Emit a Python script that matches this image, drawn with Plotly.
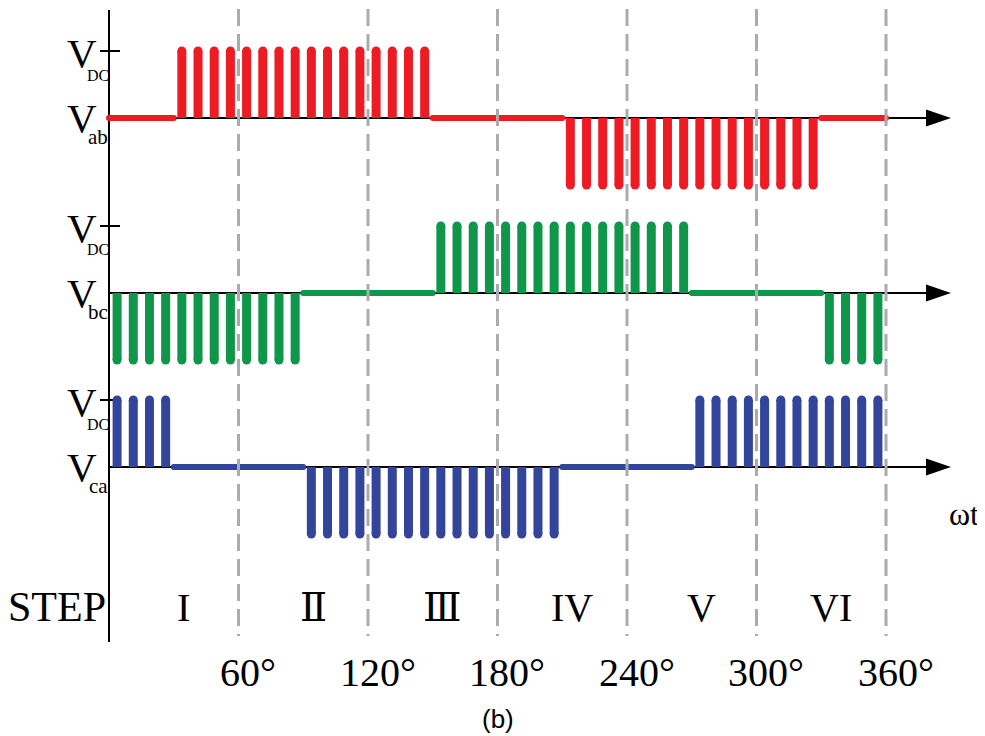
import plotly.graph_objects as go

# ---------------- data ----------------
V_DC = 1.0
step_labels = ["I", "Ⅱ", "Ⅲ", "IV", "V", "VI"]
step_centers = [30, 90, 150, 210, 270, 330]
angle_ticks = [60, 120, 180, 240, 300, 360]
angle_labels = ["60°", "120°", "180°", "240°", "300°", "360°"]

# pulse centres (degrees) and polarity, per line voltage
vab_pos = [33.75, 41.25, 48.75, 56.25, 63.75, 71.25, 78.75, 86.25,
           93.75, 101.25, 108.75, 116.25, 123.75, 131.25, 138.75, 146.25]
vab_neg = [213.75, 221.25, 228.75, 236.25, 243.75, 251.25, 258.75, 266.25,
           273.75, 281.25, 288.75, 296.25, 303.75, 311.25, 318.75, 326.25]
vab_zero = [(0, 30), (150, 210), (330, 360)]

vbc_pos = [153.75, 161.25, 168.75, 176.25, 183.75, 191.25, 198.75, 206.25,
           213.75, 221.25, 228.75, 236.25, 243.75, 251.25, 258.75, 266.25]
vbc_neg = [3.75, 11.25, 18.75, 26.25, 33.75, 41.25, 48.75, 56.25,
           63.75, 71.25, 78.75, 86.25, 333.75, 341.25, 348.75, 356.25]
vbc_zero = [(90, 150), (270, 330)]

vca_pos = [3.75, 11.25, 18.75, 26.25,
           273.75, 281.25, 288.75, 296.25, 303.75, 311.25, 318.75, 326.25,
           333.75, 341.25, 348.75, 356.25]
vca_neg = [93.75, 101.25, 108.75, 116.25, 123.75, 131.25, 138.75, 146.25,
           153.75, 161.25, 168.75, 176.25, 183.75, 191.25, 198.75, 206.25]
vca_zero = [(30, 90), (210, 270)]

phase_names = ["ab", "bc", "ca"]
phase_colors = ["#ED1C24", "#10964A", "#33459B"]
phase_pos = [vab_pos, vbc_pos, vca_pos]
phase_neg = [vab_neg, vbc_neg, vca_neg]
phase_zero = [vab_zero, vbc_zero, vca_zero]

# ---------------- layout geometry ----------------
PAGE_OFF = 8  # default body margin of the html page
W, H = 985 - PAGE_OFF, 736 - PAGE_OFF
X0_PX, X360_PX = 109, 886          # page pixels of 0 deg and 360 deg
PX_PER_DEG = (X360_PX - X0_PX) / 360.0
XMIN = -(X0_PX - PAGE_OFF) / PX_PER_DEG
XMAX = XMIN + W / PX_PER_DEG
UNIT_PX = 67.0
BASE_PX = [118, 293, 467]          # page pixels of the three baselines
Y_TOP = (BASE_PX[0] - PAGE_OFF) / UNIT_PX
YMIN = Y_TOP - H / UNIT_PX
offsets = [-(b - BASE_PX[0]) / UNIT_PX for b in BASE_PX]


def dx(px):
    return XMIN + (px - PAGE_OFF) / PX_PER_DEG


def dy(py):
    return Y_TOP - (py - PAGE_OFF) / UNIT_PX


fig = go.Figure()

for name, col, pos, neg, zero, off in zip(phase_names, phase_colors, phase_pos,
                                          phase_neg, phase_zero, offsets):
    xs, ys = [], []
    for c in pos:
        xs += [c, c, None]
        ys += [off, off + V_DC, None]
    for c in neg:
        xs += [c, c, None]
        ys += [off, off - V_DC, None]
    fig.add_trace(go.Scatter(x=xs, y=ys, mode="lines",
                             line=dict(color=col, width=9),
                             hoverinfo="skip", showlegend=False))
    tx = pos + neg
    ty = [off + V_DC] * len(pos) + [off - V_DC] * len(neg)
    fig.add_trace(go.Scatter(x=tx, y=ty, mode="markers",
                             marker=dict(color=col, size=9, line=dict(width=0)),
                             hoverinfo="skip", showlegend=False))
    zx, zy = [], []
    for a, b in zero:
        zx += [a, b, None]
        zy += [off, off, None]
    fig.add_trace(go.Scatter(x=zx, y=zy, mode="lines+markers",
                             line=dict(color=col, width=6),
                             marker=dict(color=col, size=6, line=dict(width=0)),
                             hoverinfo="skip", showlegend=False))

shapes = []
shapes.append(dict(type="line", x0=0, x1=0, y0=dy(10), y1=dy(642),
                   line=dict(color="black", width=2), layer="below"))
for off, b in zip(offsets, BASE_PX):
    shapes.append(dict(type="line", x0=0, x1=dx(930), y0=off, y1=off,
                       line=dict(color="black", width=2), layer="below"))
    shapes.append(dict(type="path",
                       path=f"M {dx(926)} {dy(b - 8.5)} L {dx(951)} {dy(b)} L {dx(926)} {dy(b + 8.5)} Z",
                       fillcolor="black", line=dict(color="black", width=0), layer="below"))
    shapes.append(dict(type="line", x0=dx(100), x1=dx(120), y0=off + V_DC, y1=off + V_DC,
                       line=dict(color="black", width=2), layer="below"))
for a in angle_ticks:
    shapes.append(dict(type="line", x0=a, x1=a, y0=dy(9), y1=dy(636),
                       line=dict(color="#ABABAB", width=3, dash="17px,8px"), layer="above"))

SERIF = "Liberation Serif, Times New Roman, serif"
ann = []


def add_text(text, xpx, ypx, size, xanchor="center", family=SERIF):
    ann.append(dict(text=text, x=(xpx - PAGE_OFF) / W, y=1 - (ypx - PAGE_OFF) / H,
                    xref="paper", yref="paper",
                    xanchor=xanchor, yanchor="middle", showarrow=False,
                    font=dict(family=family, size=size, color="black")))


for name, b in zip(phase_names, BASE_PX):
    top = b - 65
    add_text("V", 82, top, 41)
    add_text("DC", 111, top + 22, 16, xanchor="right")
    add_text("V", 82, b, 41)
    add_text(name, 110, b + 19, 21, xanchor="right")

add_text("STEP", 57, 607, 42)
for lab, c in zip(step_labels, step_centers):
    fam = SERIF if lab not in ("Ⅱ", "Ⅲ") else "Liberation Serif, DejaVu Serif, Noto Sans CJK SC, serif"
    add_text(lab, X0_PX + c * PX_PER_DEG + 10, 607, 40, family=fam)
for lab, a in zip(angle_labels, angle_ticks):
    add_text(lab, X0_PX + a * PX_PER_DEG + 9.5, 672, 40)
add_text("ωt", 964, 514, 32)
add_text("(b)", 498, 719, 26, family="Liberation Sans, Arial, sans-serif")

fig.update_layout(
    width=W, height=H, margin=dict(l=0, r=0, t=0, b=0),
    paper_bgcolor="white", plot_bgcolor="white",
    xaxis=dict(range=[XMIN, XMAX], visible=False, fixedrange=True),
    yaxis=dict(range=[YMIN, Y_TOP], visible=False, fixedrange=True),
    shapes=shapes, annotations=ann, showlegend=False,
)

fig.write_html("out.html")
